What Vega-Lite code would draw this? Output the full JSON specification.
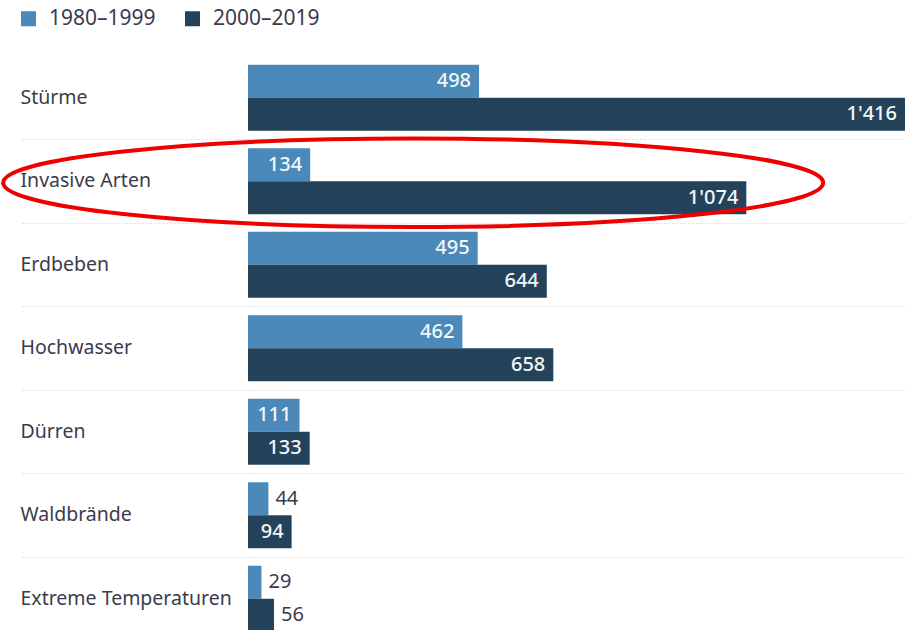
{
  "$schema": "https://vega.github.io/schema/vega-lite/v6.json",
  "width": 657,
  "height": 584.5,
  "autosize": {"type": "none"},
  "padding": {"left": 248, "top": 56, "right": 10, "bottom": 0},
  "background": "white",
  "config": {
    "view": {"stroke": null},
    "font": "Noto Sans",
    "locale": {"number": {"decimal": ".", "thousands": "'", "grouping": [3], "currency": ["", ""]}}
  },
  "datasets": {
    "bars": [
      {"cat": "Stürme", "period": "1980–1999", "value": 498},
      {"cat": "Stürme", "period": "2000–2019", "value": 1416},
      {"cat": "Invasive Arten", "period": "1980–1999", "value": 134},
      {"cat": "Invasive Arten", "period": "2000–2019", "value": 1074},
      {"cat": "Erdbeben", "period": "1980–1999", "value": 495},
      {"cat": "Erdbeben", "period": "2000–2019", "value": 644},
      {"cat": "Hochwasser", "period": "1980–1999", "value": 462},
      {"cat": "Hochwasser", "period": "2000–2019", "value": 658},
      {"cat": "Dürren", "period": "1980–1999", "value": 111},
      {"cat": "Dürren", "period": "2000–2019", "value": 133},
      {"cat": "Waldbrände", "period": "1980–1999", "value": 44},
      {"cat": "Waldbrände", "period": "2000–2019", "value": 94},
      {"cat": "Extreme Temperaturen", "period": "1980–1999", "value": 29},
      {"cat": "Extreme Temperaturen", "period": "2000–2019", "value": 56}
    ],
    "mark": [
      {"cat": "Invasive Arten", "x": 356}
    ]
  },
  "layer": [
    {
      "data": {"name": "bars"},
      "mark": {"type": "bar"},
      "encoding": {
        "y": {
          "field": "cat", "type": "nominal",
          "scale": {"domain": ["Stürme", "Invasive Arten", "Erdbeben", "Hochwasser", "Dürren", "Waldbrände", "Extreme Temperaturen"], "paddingInner": 0, "paddingOuter": 0},
          "axis": {
            "title": null, "domain": false, "bandPosition": 1,
            "ticks": true, "tickSize": 228, "tickColor": "#dcdcdc", "tickDash": [2, 2], "tickWidth": 1,
            "grid": true, "gridColor": "#dcdcdc", "gridDash": [2, 2], "gridWidth": 1,
            "labelAlign": "left", "labelPadding": 0, "labelOffset": 0,
            "labelFontSize": 19.5, "labelColor": "#3b3b4b", "labelLimit": 240
          }
        },
        "yOffset": {
          "field": "period", "type": "nominal",
          "scale": {"paddingInner": 0, "paddingOuter": 0.265}
        },
        "x": {
          "field": "value", "type": "quantitative",
          "scale": {"domain": [0, 1416], "nice": false, "zero": true},
          "axis": null
        },
        "color": {
          "field": "period", "type": "nominal",
          "scale": {"domain": ["1980–1999", "2000–2019"], "range": ["#4a89b9", "#24435b"]},
          "legend": {
            "title": null, "orient": "none", "legendX": -230, "legendY": -48, "padding": 0,
            "direction": "horizontal", "symbolType": "square", "symbolSize": 225,
            "symbolStrokeWidth": 0, "labelFontSize": 21, "labelColor": "#3b3b4b",
            "labelOffset": 10, "columnPadding": 26
          }
        }
      }
    },
    {
      "data": {"name": "bars"},
      "transform": [{"filter": "datum.value >= 90"}],
      "mark": {"type": "text", "align": "right", "baseline": "middle", "dx": -8, "fontSize": 20, "color": "#f4f6f8", "fontWeight": 500},
      "encoding": {
        "y": {"field": "cat", "type": "nominal", "scale": {"domain": ["Stürme", "Invasive Arten", "Erdbeben", "Hochwasser", "Dürren", "Waldbrände", "Extreme Temperaturen"]}},
        "yOffset": {"field": "period", "type": "nominal"},
        "x": {"field": "value", "type": "quantitative"},
        "text": {"field": "value", "type": "quantitative", "format": ","}
      }
    },
    {
      "data": {"name": "bars"},
      "transform": [{"filter": "datum.value < 90"}],
      "mark": {"type": "text", "align": "left", "baseline": "middle", "dx": 7, "fontSize": 20, "color": "#3b3b4b"},
      "encoding": {
        "y": {"field": "cat", "type": "nominal", "scale": {"domain": ["Stürme", "Invasive Arten", "Erdbeben", "Hochwasser", "Dürren", "Waldbrände", "Extreme Temperaturen"]}},
        "yOffset": {"field": "period", "type": "nominal"},
        "x": {"field": "value", "type": "quantitative"},
        "text": {"field": "value", "type": "quantitative", "format": ","}
      }
    },
    {
      "data": {"name": "mark"},
      "mark": {
        "type": "point", "filled": false, "stroke": "#ee0000", "strokeWidth": 4, "opacity": 1,
        "shape": "M-1,0A1,0.108,0,1,0,1,0A1,0.108,0,1,0,-1,0Z",
        "size": 672400,
        "yOffset": 1.5
      },
      "encoding": {
        "y": {"field": "cat", "type": "nominal", "scale": {"domain": ["Stürme", "Invasive Arten", "Erdbeben", "Hochwasser", "Dürren", "Waldbrände", "Extreme Temperaturen"]}},
        "x": {"field": "x", "type": "quantitative"}
      }
    }
  ]
}
